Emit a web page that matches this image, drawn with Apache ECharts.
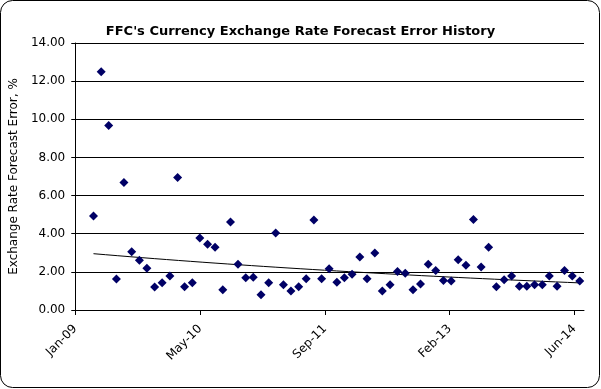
<!DOCTYPE html>
<html>
<head>
<meta charset="utf-8">
<script src="https://cdn.jsdelivr.net/npm/echarts@6/dist/echarts.min.js"></script>
<style>
html,body{margin:0;padding:0;background:#fff;}
#c{width:601px;height:389px;}
</style>
</head>
<body>
<div id="c"></div>
<script>
// Monthly observations (mid-month)
var months = [
 '2009-03','2009-04','2009-05','2009-06','2009-07','2009-08','2009-09','2009-10','2009-11','2009-12',
 '2010-01','2010-02','2010-03','2010-04','2010-05','2010-06','2010-07','2010-08','2010-09','2010-10','2010-11','2010-12',
 '2011-01','2011-02','2011-03','2011-04','2011-05','2011-06','2011-07','2011-08','2011-09','2011-10','2011-11','2011-12',
 '2012-01','2012-02','2012-03','2012-04','2012-05','2012-06','2012-07','2012-08','2012-09','2012-10','2012-11','2012-12',
 '2013-01','2013-02','2013-03','2013-04','2013-05','2013-06','2013-07','2013-08','2013-09','2013-10','2013-11','2013-12',
 '2014-01','2014-02','2014-03','2014-04','2014-05','2014-06','2014-07'
];
var errors = [
 4.93,12.49,9.67,1.63,6.69,3.05,2.61,2.19,1.20,1.43,
 1.78,6.95,1.22,1.43,3.78,3.45,3.29,1.06,4.61,2.40,1.69,1.72,
 0.80,1.43,4.04,1.32,0.99,1.22,1.64,4.72,1.64,2.16,1.46,1.69,
 1.88,2.78,1.64,2.99,0.99,1.32,2.02,1.93,1.06,1.36,2.40,2.07,
 1.55,1.52,2.63,2.35,4.75,2.26,3.29,1.22,1.58,1.78,1.25,1.25,
 1.32,1.32,1.78,1.25,2.07,1.78,1.52
];
var yTicks = [0,2,4,6,8,10,12,14];
var xStart = '2009-01-01';
var xEnd = '2014-08-01';
var xStepDays = 500;

var DAY = 86400000;
function parseDate(s){var p=s.split('-');return Date.UTC(+p[0],+p[1]-1,p[2]?+p[2]:1);}
var base = parseDate(xStart);
function dayOf(s){return Math.round((parseDate(s)-base)/DAY);}
var MON=['Jan','Feb','Mar','Apr','May','Jun','Jul','Aug','Sep','Oct','Nov','Dec'];
function fmt(d){var t=new Date(base+d*DAY);return MON[t.getUTCMonth()]+'-'+String(t.getUTCFullYear()%100).padStart(2,'0');}

var pts = months.map(function(m,i){return [dayOf(m+'-15'), errors[i]];});
// exponential trendline: least squares on ln(y)
var n=pts.length,sx=0,sy=0,sxx=0,sxy=0;
pts.forEach(function(p){var ly=Math.log(p[1]);sx+=p[0];sy+=ly;sxx+=p[0]*p[0];sxy+=p[0]*ly;});
var b=(n*sxy-sx*sy)/(n*sxx-sx*sx), a=(sy-b*sx)/n;
var x0=pts[0][0], x1=pts[n-1][0];
var trend=[];
for(var k=0;k<=40;k++){var xx=x0+(x1-x0)*k/40;trend.push([xx,Math.exp(a+b*xx)]);}

var FONT='DejaVu Sans';
var chart = echarts.init(document.getElementById('c'),null,{renderer:'canvas'});
chart.setOption({
  animation:false,
  backgroundColor:'#ffffff',
  title:{text:"FFC's Currency Exchange Rate Forecast Error History",left:'center',top:20,
    textStyle:{fontFamily:FONT,fontSize:13,fontWeight:'bold',color:'#000'}},
  graphic:[{type:'rect',shape:{x:0.5,y:0.5,width:599,height:387,r:12},
    style:{fill:null,stroke:'#000',lineWidth:1},silent:true,z:-1}],
  grid:{left:75,right:17,top:43,bottom:79,containLabel:false},
  xAxis:{type:'value',min:0,max:dayOf(xEnd),interval:xStepDays,
    axisLine:{show:true,lineStyle:{color:'#000',width:1}},
    axisTick:{show:true,inside:false,length:5,lineStyle:{color:'#000'}},
    splitLine:{show:false},
    axisLabel:{rotate:45,margin:17,fontFamily:FONT,fontSize:12,color:'#000',
      showMaxLabel:false,
      formatter:function(v){return fmt(v);}}},
  yAxis:{type:'value',min:yTicks[0],max:yTicks[yTicks.length-1],interval:2,
    name:'Exchange Rate Forecast Error, %',nameLocation:'middle',nameGap:43,
    nameTextStyle:{fontFamily:FONT,fontSize:12,color:'#000'},
    axisLine:{show:true,lineStyle:{color:'#000',width:1}},
    axisTick:{show:true,length:4,lineStyle:{color:'#000'}},
    splitLine:{show:true,lineStyle:{color:'#000',width:1}},
    axisLabel:{margin:10,fontFamily:FONT,fontSize:12,color:'#000',
      formatter:function(v){return v.toFixed(2);}}},
  series:[
    {type:'scatter',data:pts,symbol:'diamond',symbolSize:9,
      itemStyle:{color:'#000066',opacity:1},z:3},
    {type:'line',data:trend,showSymbol:false,symbol:'none',smooth:false,
      lineStyle:{color:'#000',width:1},z:2}
  ]
});
</script>
</body>
</html>
